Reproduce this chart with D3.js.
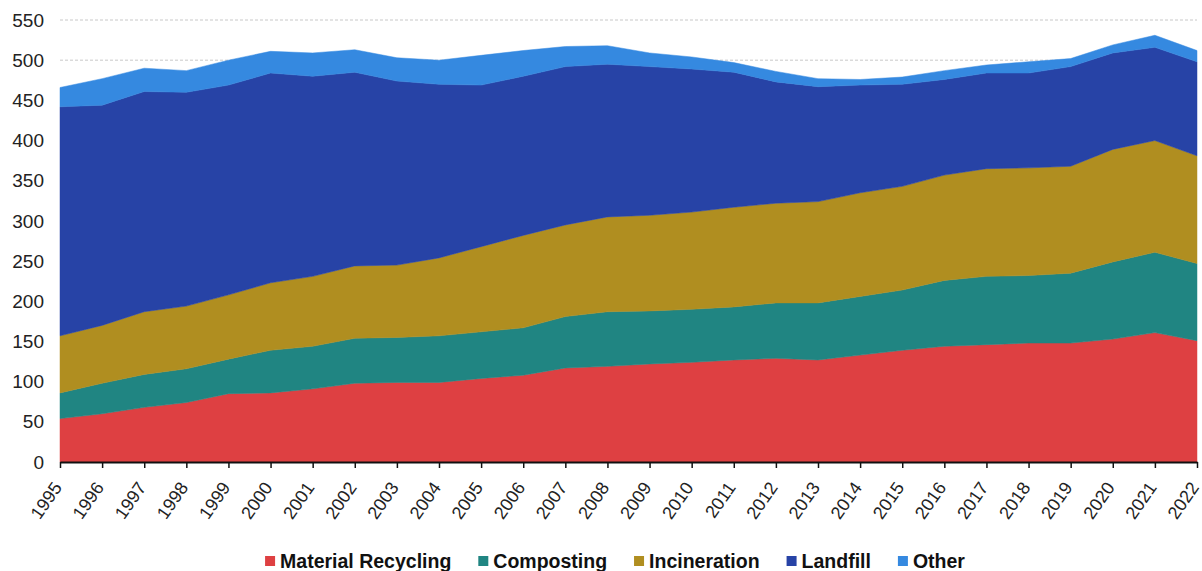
<!DOCTYPE html>
<html>
<head>
<meta charset="utf-8">
<script src="https://cdn.jsdelivr.net/npm/d3@7"></script>
<style>
  html, body { margin: 0; padding: 0; background: #fff; }
  svg { display: block; font-family: "Liberation Sans", Arial, sans-serif; }
</style>
</head>
<body>
<svg id="chart" width="1202" height="571"></svg>
<script>
const years = [1995,1996,1997,1998,1999,2000,2001,2002,2003,2004,2005,2006,2007,2008,2009,2010,2011,2012,2013,2014,2015,2016,2017,2018,2019,2020,2021,2022];
const materialRecycling = [54,60,68,74,85,86,91,98,99,99,104,108,117,119,122,124,127,129,127,133,139,144,146,148,148,153,161,151];
const composting        = [32,38,41,42,43,53,53,56,56,58,58,59,64,68,66,66,66,69,71,73,75,82,85,84,87,96,100,96];
const incineration      = [71,72,78,78,80,84,87,90,90,97,106,115,114,118,119,121,124,124,126,129,129,131,134,134,133,140,139,134];
const landfill          = [285,274,274,266,261,261,249,241,229,216,201,198,197,190,185,178,168,151,143,134,127,119,119,118,124,120,116,117];
const other             = [24,33,29,27,31,27,29,28,29,30,37,32,25,23,17,15,12,13,10,7,9,11,10,14,10,10,15,14];
const seriesNames  = ["Material Recycling","Composting","Incineration","Landfill","Other"];
const seriesColors = ["#de4042","#208582","#b08e20","#2743a6","#3589e0"];
const yTicks = [0,50,100,150,200,250,300,350,400,450,500,550];

(function () {
const seriesValues = [materialRecycling, composting, incineration, landfill, other];
const rows = years.map((yr, i) => {
  const r = { year: yr };
  seriesNames.forEach((n, k) => r[n] = seriesValues[k][i]);
  return r;
});

const svg = d3.select("#chart");
const pL = 60, pR = 1197, pT = 20, pB = 462;

const x = d3.scaleLinear().domain([years[0], years[years.length - 1]]).range([pL, pR]);
const y = d3.scaleLinear().domain([0, 550]).range([pB, pT]);

// gridlines
svg.append("g").selectAll("line").data(yTicks.filter(d => d > 0)).join("line")
  .attr("x1", pL).attr("x2", pR)
  .attr("y1", d => y(d)).attr("y2", d => y(d))
  .attr("stroke", "#c8c8c8").attr("stroke-width", 1).attr("stroke-dasharray", "3,2");

// stacked areas
const stack = d3.stack().keys(seriesNames);
const layers = stack(rows);
const area = d3.area()
  .x(d => x(d.data.year))
  .y0(d => y(d[0]))
  .y1(d => y(d[1]));
svg.append("g").selectAll("path").data(layers).join("path")
  .attr("d", area)
  .attr("fill", (d, i) => seriesColors[i])
  .attr("stroke", (d, i) => seriesColors[i])
  .attr("stroke-width", 0.5);

// y axis labels
const yAxis = d3.axisLeft(y).tickValues(yTicks).tickSize(0).tickPadding(16);
const gy = svg.append("g").attr("transform", `translate(${pL},0)`).call(yAxis);
gy.select(".domain").remove();
gy.selectAll("text").attr("font-size", 19).attr("fill", "#222").attr("font-family", "Liberation Sans, Arial, sans-serif");

// x axis
const xAxis = d3.axisBottom(x).tickValues(years).tickFormat(d3.format("d")).tickSize(6).tickSizeOuter(0);
const gx = svg.append("g").attr("transform", `translate(0,${pB})`).call(xAxis);
gx.select(".domain").attr("stroke", "#111").attr("stroke-width", 2);
gx.selectAll(".tick line").attr("stroke", "#111").attr("stroke-width", 1.5);
gx.selectAll("text")
  .attr("font-size", 18).attr("fill", "#222")
  .attr("font-family", "Liberation Sans, Arial, sans-serif")
  .attr("text-anchor", "end")
  .attr("dy", "0.35em")
  .attr("transform", "translate(-3,22) rotate(-55)")
  .attr("y", 0).attr("x", 0);

// legend
const legend = svg.append("g");
const legendY = 561;
const fs = 19.5;
const widths = [];
const tmp = svg.append("text").attr("font-size", fs).attr("font-weight", "bold");
seriesNames.forEach(n => { tmp.text(n); widths.push(tmp.node().getComputedTextLength()); });
tmp.remove();
const sq = 10, gapSq = 5, gapItem = 27;
const total = widths.reduce((a, w) => a + sq + gapSq + w, 0) + gapItem * (widths.length - 1);
let cx = 615 - total / 2;
seriesNames.forEach((n, i) => {
  legend.append("rect").attr("x", cx).attr("y", legendY - sq / 2).attr("width", sq).attr("height", sq).attr("fill", seriesColors[i]);
  legend.append("text").attr("x", cx + sq + gapSq).attr("y", legendY).attr("dy", "0.36em")
    .attr("font-size", fs).attr("font-weight", "bold").attr("fill", "#111").text(n);
  cx += sq + gapSq + widths[i] + gapItem;
});
})();
</script>
</body>
</html>
